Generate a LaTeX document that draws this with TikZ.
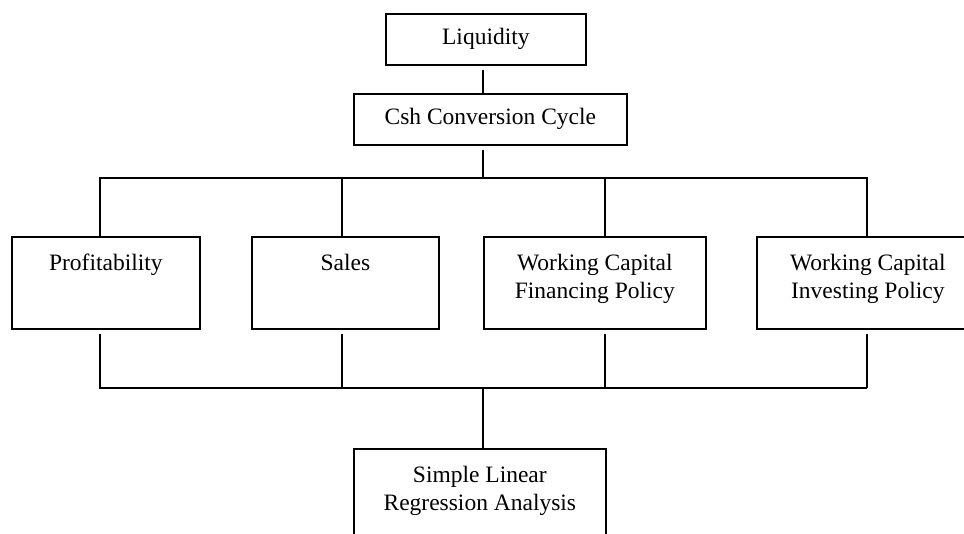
\documentclass[tikz,border=0pt]{standalone}
\usepackage{fontspec}
\setmainfont{Liberation Serif}
\newcommand{\tbox}[3]{\parbox[c][#1][t]{#2}{\centering\vspace*{14.4pt}\strut #3}}
\begin{document}
\begin{tikzpicture}[x=1pt,y=1pt,
  box/.style={draw, line width=1.7pt, inner sep=0pt, anchor=north west},
  conn/.style={line width=1.4pt},
  font=\fontsize{23.5}{28}\selectfont]
\useasboundingbox (0,0) rectangle (964,-533);
\clip (0,0) rectangle (964,-533);

\node[box, minimum width=200pt, minimum height=51pt] (liq) at (385,-13) {Liquidity};
\node[box, minimum width=273pt, minimum height=51pt] (csh) at (353,-93) {Csh Conversion Cycle};
\node[box] (prof) at (11,-236) {\tbox{92pt}{188pt}{Profitability}};
\node[box] (sales) at (251,-236) {\tbox{92pt}{187pt}{Sales}};
\node[box] (fin) at (483,-236) {\tbox{92pt}{222pt}{Working Capital\\Financing Policy}};
\node[box] (inv) at (756,-236) {\tbox{92pt}{222pt}{Working Capital\\Investing Policy}};
\node[box] (slr) at (353,-448) {\tbox{92pt}{252pt}{Simple Linear\\Regression Analysis}};

\coordinate (ctop) at (483,-178);
\coordinate (cbot) at (483,-388);
\coordinate (t1) at (100,-178);
\coordinate (t2) at (342,-178);
\coordinate (t3) at (605,-178);
\coordinate (t4) at (867,-178);
\coordinate (b1) at (100,-388);
\coordinate (b2) at (342,-388);
\coordinate (b3) at (605,-388);
\coordinate (b4) at (867,-388);

\draw[conn, shorten <=4pt] (liq.south -| ctop) -- (csh.north -| ctop);
\draw[conn, shorten <=4pt] (csh.south -| ctop) -- (ctop);
\draw[conn] (t1 |- prof.north) -- (t1) -- (t4) -- (t4 |- inv.north);
\draw[conn] (t2) -- (t2 |- sales.north);
\draw[conn] (t3) -- (t3 |- fin.north);

\draw[conn, shorten <=4pt] (prof.south -| b1) -- (b1) -- (b4);
\draw[conn, shorten >=4pt] (b4) -- (inv.south -| b4);
\draw[conn, shorten <=4pt] (sales.south -| b2) -- (b2);
\draw[conn, shorten <=4pt] (fin.south -| b3) -- (b3);
\draw[conn] (cbot) -- (cbot |- slr.north);
\end{tikzpicture}
\end{document}
